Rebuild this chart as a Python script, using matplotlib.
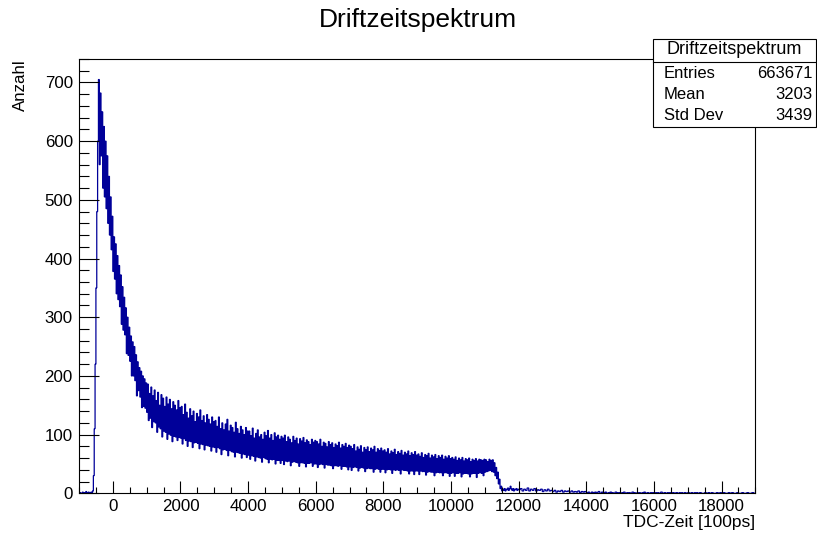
import numpy as np
import matplotlib
matplotlib.use('Agg')
from matplotlib import pyplot as plt
from matplotlib.patches import Rectangle
from matplotlib.lines import Line2D
from matplotlib.ticker import MultipleLocator

plt.rcParams['font.family'] = ['Liberation Sans', 'DejaVu Sans']

# TDC drift time histogram (x in units of 100 ps)
# fine binning (width 25) from -1000 to 12000
fine_lo = -1000
fine_width = 25
counts_fine = [
    # -1000 .. 0
    0, 1, 0, 0, 2, 1, 0, 1, 3, 0, 1, 2, 0, 1, 2, 1,
    4, 30, 110, 220, 350, 480, 600, 705, 560, 682, 575, 650, 520, 625, 505, 600,
    485, 575, 460, 540, 440, 505, 415, 472,
    # 0 .. 1000
    378, 437, 365, 425, 340, 405, 330, 388, 318, 372, 288, 352, 278, 334, 270, 316,
    238, 300, 235, 283, 225, 268, 200, 258, 200, 250, 192, 236, 166, 224, 175, 214,
    164, 208, 146, 200, 148, 195, 145, 188,
    # 1000 .. 2000
    138, 186, 124, 170, 128, 181, 112, 166, 122, 176, 120, 158, 104, 172, 113, 150,
    110, 168, 96, 162, 106, 148, 104, 164, 92, 152, 101, 160, 99, 144, 88, 156,
    97, 150, 96, 142, 90, 158, 95, 146,
    # 2000 .. 3000
    94, 148, 84, 134, 93, 152, 90, 138, 80, 128, 89, 144, 88, 132, 78, 140,
    86, 122, 87, 136, 85, 130, 76, 142, 84, 124, 83, 132, 74, 120, 82, 134,
    81, 126, 80, 118, 72, 130, 79, 122,
    # 3000 .. 4000
    78, 124, 70, 114, 78, 130, 76, 110, 66, 120, 74, 108, 75, 118, 73, 126,
    64, 106, 73, 116, 71, 112, 70, 104, 62, 121, 70, 110, 69, 102, 68, 114,
    60, 108, 67, 100, 66, 112, 61, 106,
    # 4000 .. 5000
    65, 106, 58, 98, 64, 111, 63, 94, 55, 102, 62, 108, 61, 96, 60, 100,
    53, 92, 61, 104, 59, 98, 58, 107, 52, 94, 58, 100, 57, 90, 58, 103,
    50, 96, 56, 99, 56, 92, 51, 97,
    # 5000 .. 6000
    56, 94, 49, 99, 55, 88, 54, 96, 55, 92, 47, 86, 53, 97, 54, 90,
    53, 94, 52, 84, 46, 93, 52, 89, 52, 95, 51, 86, 45, 91, 51, 88,
    51, 83, 52, 92, 46, 87, 50, 90,
    # 6000 .. 7000
    50, 88, 44, 84, 49, 92, 50, 80, 49, 87, 43, 85, 49, 79, 48, 88,
    48, 83, 47, 86, 42, 78, 47, 84, 47, 81, 46, 87, 47, 77, 41, 83,
    46, 80, 46, 85, 45, 78, 40, 82,
    # 7000 .. 8000
    45, 80, 39, 76, 44, 83, 45, 72, 44, 79, 38, 75, 43, 81, 44, 70,
    43, 78, 37, 74, 42, 79, 43, 71, 42, 77, 42, 74, 36, 80, 41, 70,
    42, 76, 41, 73, 36, 77, 41, 72,
    # 8000 .. 9000
    41, 74, 35, 70, 40, 76, 41, 67, 40, 72, 34, 69, 40, 75, 39, 66,
    40, 71, 39, 68, 33, 73, 40, 65, 39, 70, 39, 67, 38, 72, 33, 64,
    38, 69, 38, 66, 32, 71, 38, 65,
    # 9000 .. 10000
    38, 67, 32, 63, 38, 69, 37, 61, 37, 66, 31, 64, 36, 68, 37, 60,
    36, 65, 36, 62, 30, 66, 35, 59, 36, 64, 35, 61, 35, 65, 30, 58,
    35, 63, 35, 60, 34, 64, 29, 59,
    # 10000 .. 11000
    34, 61, 35, 58, 29, 62, 34, 56, 34, 60, 35, 57, 28, 61, 33, 55,
    34, 59, 34, 57, 33, 60, 28, 54, 33, 58, 34, 56, 34, 59, 27, 55,
    34, 58, 35, 57, 34, 56, 30, 58,
    # 11000 .. 12000
    36, 57, 37, 54, 38, 58, 39, 56, 37, 57, 36, 52,
    30, 44, 25, 36, 16, 24, 8, 12, 4, 7,
    5, 8, 4, 7, 6, 9, 5, 8, 12, 7, 5, 8, 4, 7, 6, 8, 5, 7,
]
# coarse binning (width 50) for the nearly empty tail 12000 .. 19000
counts_tail = [
    6, 8, 4, 7, 5, 9, 4, 7, 5, 8, 4, 6, 5, 7, 3, 6, 4, 7, 4, 5,
    3, 5, 2, 4, 3, 5, 2, 4, 3, 4, 2, 4, 2, 3, 2, 4, 1, 3, 2, 3,
    1, 2, 0, 2, 1, 2, 1, 3, 0, 2, 1, 2, 0, 1, 2, 1, 0, 2, 1, 1,
    0, 1, 2, 0, 1, 1, 0, 2, 1, 0, 1, 1, 0, 1, 2, 0, 1, 0, 1, 1,
    0, 1, 1, 0, 2, 0, 1, 0, 1, 1, 0, 1, 0, 1, 0, 1, 1, 0, 1, 0,
    1, 0, 1, 0, 1, 1, 0, 1, 0, 0, 1, 0, 1, 0, 1, 0, 0, 1, 0, 1,
    0, 1, 0, 0, 1, 0, 1, 0, 0, 1, 0, 0, 1, 0, 0, 1, 0, 0, 1, 0,
]
tail_width = 50

counts = counts_fine + counts_tail
fine_edges = fine_lo + fine_width * np.arange(len(counts_fine) + 1)
tail_edges = fine_edges[-1] + tail_width * np.arange(1, len(counts_tail) + 1)
edges = np.concatenate([fine_edges, tail_edges])

title = "Driftzeitspektrum"
stats_rows = [("Entries", "663671"), ("Mean", "3203"), ("Std Dev", "3439")]

fig = plt.figure(figsize=(8.17, 5.33), dpi=100)
ax = fig.add_axes([0.0967, 0.0745, 0.8278, 0.8148])

ax.stairs(counts, edges, color='#000099', linewidth=0.9, baseline=None)

ax.set_xlim(-1000, 19000)
ax.set_ylim(0, 740)

ax.xaxis.set_major_locator(MultipleLocator(2000))
ax.xaxis.set_minor_locator(MultipleLocator(500))
ax.yaxis.set_major_locator(MultipleLocator(100))
ax.yaxis.set_minor_locator(MultipleLocator(20))

ax.tick_params(axis='x', which='both', direction='in', top=False, labelsize=12.2, pad=4)
ax.tick_params(axis='x', which='major', length=8.6, width=0.8)
ax.tick_params(axis='x', which='minor', length=4.3, width=0.8)
ax.tick_params(axis='y', which='both', direction='in', right=False, labelsize=12.2, pad=4.5)
ax.tick_params(axis='y', which='major', length=14.4, width=0.8)
ax.tick_params(axis='y', which='minor', length=7.2, width=0.8)
for sp in ax.spines.values():
    sp.set_linewidth(0.8)

ax.set_xlabel("TDC-Zeit [100ps]", fontsize=12.5, loc='right', labelpad=1)
ax.set_ylabel("Anzahl", fontsize=12.2, loc='top', labelpad=12)

fig.text(0.512, 0.962, title, fontsize=19, ha='center', va='center')

# statistics box
x0, x1 = 0.7993, 0.9988
y0, y1 = 0.7617, 0.9268
fig.add_artist(Rectangle((x0, y0), x1 - x0, y1 - y0, transform=fig.transFigure,
                         facecolor='white', edgecolor='black', linewidth=0.8, zorder=5))
fig.add_artist(Line2D([x0, x1], [0.8842, 0.8842], transform=fig.transFigure,
                      color='black', linewidth=0.8, zorder=6))
fig.text((x0 + x1) / 2, 0.9062, title, fontsize=13, ha='center', va='center', zorder=7)
for i, (name, val) in enumerate(stats_rows):
    yy = 0.863 - i * 0.0403
    fig.text(0.8127, yy, name, fontsize=12, ha='left', va='center', zorder=7)
    fig.text(0.995, yy, val, fontsize=12, ha='right', va='center', zorder=7)

fig.savefig('out.png', dpi=100)
